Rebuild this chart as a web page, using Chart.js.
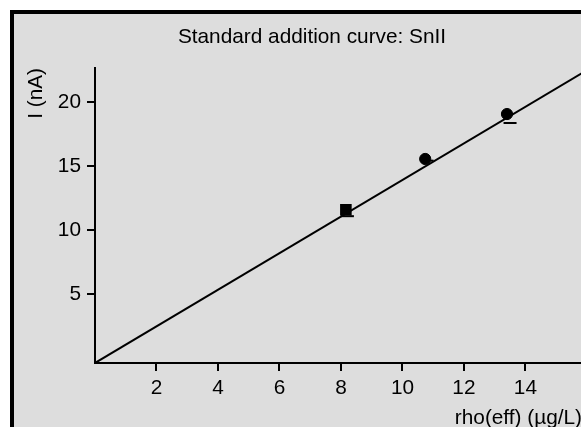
<!DOCTYPE html>
<html lang="en">
<head>
    <meta charset="UTF-8">
    <title>Standard addition curve: SnII</title>
    <script src="https://cdn.jsdelivr.net/npm/chart.js"></script>
    <style>
        html, body { margin: 0; padding: 0; background: #fff; overflow: hidden; }
        #frame {
            position: absolute; left: 10px; top: 10px;
            width: 600px; height: 440px;
            border-left: 4px solid #000; border-top: 4px solid #000;
            background: #dddddd;
        }
        #chart { position: absolute; left: 0; top: 0; }
    </style>
</head>
<body>
    <div id="frame">
        <canvas id="chart" width="590" height="420"></canvas>
    </div>

    <script>
        // measured points (square = sample, circles = additions)
        const sampleX = [8.16];
        const sampleY = [11.57];
        const addX = [10.74, 13.40];
        const addY = [15.54, 19.05];
        // lower error-bar caps
        const capX = [8.21, 10.80, 13.50];
        const capY = [11.07, 15.41, 18.35];
        // regression line end points
        const lineX = [0, 16];
        const lineY = [-0.4, 22.47];
        const xTicks = [2, 4, 6, 8, 10, 12, 14];
        const yTicks = [5, 10, 15, 20];

        const font = { family: '"Liberation Sans", Arial, sans-serif', size: 20.8, weight: 'normal' };
        const pts = (xs, ys) => xs.map((x, i) => ({ x: x, y: ys[i] }));

        Chart.defaults.color = '#000';
        Chart.defaults.font = font;

        new Chart(document.getElementById('chart').getContext('2d'), {
            type: 'scatter',
            data: {
                datasets: [
                    {
                        type: 'line',
                        data: pts(lineX, lineY),
                        borderColor: '#000',
                        borderWidth: 2,
                        pointRadius: 0,
                        fill: false
                    },
                    {
                        data: pts(capX, capY),
                        pointStyle: 'line',
                        pointRadius: 6.5,
                        borderColor: '#000',
                        borderWidth: 2
                    },
                    {
                        data: pts(sampleX, sampleY),
                        pointStyle: 'rect',
                        pointRadius: 8.2,
                        backgroundColor: '#000',
                        borderWidth: 0
                    },
                    {
                        data: pts(addX, addY),
                        pointStyle: 'circle',
                        pointRadius: 5.6,
                        backgroundColor: '#000',
                        borderColor: '#000',
                        borderWidth: 1
                    }
                ]
            },
            options: {
                responsive: false,
                animation: false,
                // left padding only to centre the title like the original
                layout: { padding: { left: 28, right: 22 } },
                plugins: {
                    legend: { display: false },
                    tooltip: { enabled: false },
                    title: {
                        display: true,
                        text: 'Standard addition curve: SnII',
                        font: font,
                        color: '#000',
                        padding: { top: 11, bottom: 18 }
                    }
                },
                scales: {
                    x: {
                        type: 'linear',
                        min: 0,
                        max: 15.84,
                        afterBuildTicks: axis => { axis.ticks = xTicks.map(v => ({ value: v })); },
                        afterFit: axis => { axis.height = 71; },
                        ticks: { font: font, color: '#000', padding: 5, maxRotation: 0 },
                        grid: { drawOnChartArea: false, drawTicks: true, tickLength: 8, color: '#000', lineWidth: 2 },
                        border: { display: true, color: '#000', width: 2 },
                        title: {
                            display: true,
                            text: 'rho(eff) (µg/L)',
                            align: 'end',
                            font: font,
                            color: '#000',
                            padding: { top: 0, bottom: 3 }
                        }
                    },
                    y: {
                        type: 'linear',
                        min: -0.4,
                        max: 22.65,
                        afterBuildTicks: axis => { axis.ticks = yTicks.map(v => ({ value: v })); },
                        afterFit: axis => { axis.width = 53; },
                        ticks: { font: font, color: '#000', padding: 6 },
                        grid: { drawOnChartArea: false, drawTicks: true, tickLength: 8, color: '#000', lineWidth: 2 },
                        border: { display: true, color: '#000', width: 2 },
                        title: {
                            display: true,
                            text: 'I (nA)',
                            align: 'end',
                            font: font,
                            color: '#000',
                            padding: { top: -18, bottom: 0 }
                        }
                    }
                }
            }
        });
    </script>
</body>
</html>
